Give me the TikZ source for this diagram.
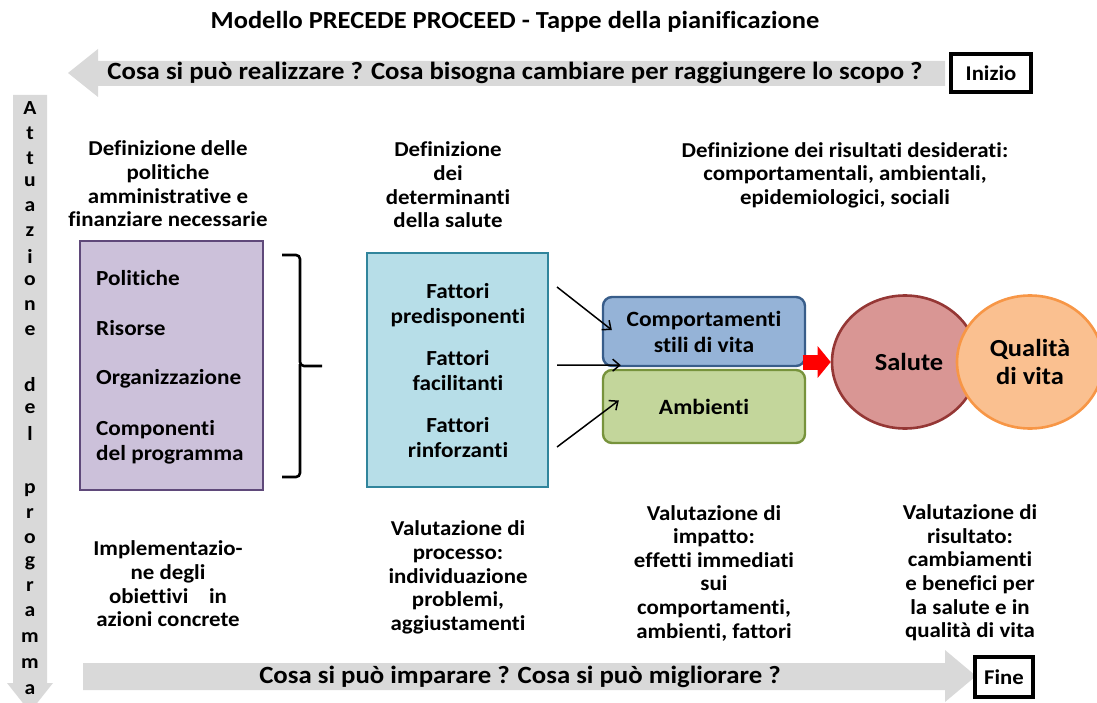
\documentclass[tikz,border=0pt]{standalone}
\usepackage{fontspec}
\setmainfont{Carlito}[FakeStretch=1.08, Ligatures=NoCommon]
\usetikzlibrary{positioning,shapes.geometric,arrows.meta}

\definecolor{arrgrey}{HTML}{D9D9D9}
\definecolor{pfill}{HTML}{CCC1DA}
\definecolor{pborder}{HTML}{5F497A}
\definecolor{dfill}{HTML}{B7DEE8}
\definecolor{dborder}{HTML}{31859C}
\definecolor{cfill}{HTML}{95B3D7}
\definecolor{cborder}{HTML}{385D8A}
\definecolor{afill}{HTML}{C3D69B}
\definecolor{aborder}{HTML}{77933C}
\definecolor{sfill}{HTML}{D99694}
\definecolor{sborder}{HTML}{953735}
\definecolor{qfill}{HTML}{FAC090}
\definecolor{qborder}{HTML}{F79646}

\begin{document}
\begin{tikzpicture}[x=1pt, y=-1pt,
    hd/.style={align=center, inner sep=0pt, font=\fontsize{21.2}{23.6}\selectfont\bfseries},
    big/.style={inner sep=0pt, font=\fontsize{24.8}{28}\selectfont\bfseries},
    endbox/.style={draw, line width=3.2pt, fill=white, inner sep=0pt,
        font=\fontsize{21}{23}\selectfont\bfseries},
    item/.style={anchor=west, align=left, inner sep=0pt, font=\fontsize{21.5}{25}\selectfont\bfseries},
    fat/.style={align=center, inner sep=0pt, font=\fontsize{21.5}{25}\selectfont\bfseries},
    rbox/.style={draw, line width=2.4pt, rounded corners=9pt, minimum width=202pt,
        align=center, inner sep=0pt, font=\fontsize{21.8}{26}\selectfont\bfseries},
    oval/.style={ellipse, draw, line width=2.6pt, minimum width=146pt, minimum height=133pt,
        inner sep=0pt, align=center, font=\fontsize{24.5}{28}\selectfont\bfseries},
    arr/.style={-{Straight Barb[length=7pt,width=12pt]}, line width=1.5pt},
    vl/.style={inner sep=0pt, font=\fontsize{20}{20}\selectfont\bfseries}]
    \useasboundingbox (0,0) rectangle (1097,703);

    \node[font=\fontsize{24.5}{28}\selectfont\bfseries] (title) at (515,22)
        {Modello PRECEDE PROCEED - Tappe della pianificazione};

    % freccia in alto
    \fill[arrgrey] (945,61) -- (98,61) -- (98,49) -- (68,73) -- (98,97) -- (98,86) -- (945,86) -- cycle;
    \node[big] (plan) at (515,73) {Cosa si può realizzare ? Cosa bisogna cambiare per raggiungere lo scopo ?};
    \node[endbox, minimum width=80pt, minimum height=38pt] (start) at (991,73) {Inizio};

    % freccia verticale
    \fill[arrgrey] (13,95) -- (47,95) -- (47,683) -- (53,683) -- (30,712) -- (7,683) -- (13,683) -- cycle;
    \foreach \ch/\yy [count=\i] in {A/108, t/133, t/158, u/182, a/207, z/232, i/256, o/281,
        n/306, e/331, d/385, e/409, l/433, p/490, r/514, o/539, g/563, r/587, a/612,
        m/638, m/664, a/690}
        \node[vl] (v\i) at (30,\yy) {\ch};

    % intestazioni
    \node[hd] (h1) at (168,184) {Definizione delle\\politiche\\amministrative e\\finanziare necessarie};
    \node[hd] (h2) at (448,185) {Definizione\\dei\\determinanti\\della salute};
    \node[hd] (h3) at (845,175) {Definizione dei risultati desiderati:\\comportamentali, ambientali,\\epidemiologici, sociali};

    % politiche
    \node[draw=pborder, fill=pfill, line width=2pt, minimum width=183pt, minimum height=249pt] (res) at (171.5,365.5) {};
    \node[item] (pol) at (96,278) {Politiche};
    \node[item] (ris) at (96,328) {Risorse};
    \node[item] (org) at (96,379) {Organizzazione};
    \node[item] (cmp) at (96,442.5) {Componenti\\del programma};

    \draw[line width=2.6pt, rounded corners=4pt] (282,255) -- (300,255) -- (300,366) -- (322,366);
    \draw[line width=2.6pt, rounded corners=4pt] (300,364) -- (300,477) -- (282,477);

    % determinanti
    \node[draw=dborder, fill=dfill, line width=2pt, minimum width=181pt, minimum height=234pt] (det) at (457.5,370) {};
    \node[fat] (pred) at (458,305) {Fattori\\predisponenti};
    \node[fat] (fac) at (458,370.5) {Fattori\\facilitanti};
    \node[fat] (rinf) at (458,437.5) {Fattori\\rinforzanti};

    \node[rbox, draw=cborder, fill=cfill, minimum height=69pt] (comp) at (704,331.5) {Comportamenti\\stili di vita};
    \node[rbox, draw=aborder, fill=afill, minimum height=73pt] (amb) at (704,406.5) {Ambienti};

    \coordinate (s1) at (557,287);
    \coordinate (s2) at (557,365);
    \coordinate (s3) at (557,447);
    \draw[arr] (s1) -- ([xshift=10pt,yshift=1.5pt]comp.west);
    \draw[arr] (s2) -- ([xshift=19pt,yshift=2pt]comp.south west);
    \draw[arr] (s3) -- ([xshift=17pt,yshift=6pt]amb.west);

    % salute
    \node[oval, draw=sborder, fill=sfill] (sal) at (905,362) {\hspace*{8pt}Salute};
    \node[oval, draw=qborder, fill=qfill] (qual) at (1030,362) {Qualità\\di vita};
    \draw[red, line width=15pt, -{Triangle[length=13pt,width=31pt]}] ([xshift=-28pt]sal.west) -- (sal.west);

    % valutazioni
    \node[hd] (b1) at (168,584) {Implementazio-\\ne degli\\obiettivi\ \ \ \ in\\azioni concrete};
    \node[hd] (b2) at (458,577.5) {Valutazione di\\processo:\\individuazione\\problemi,\\aggiustamenti};
    \node[hd] (b3) at (714,573) {Valutazione di\\impatto:\\effetti immediati\\sui\\comportamenti,\\ambienti, fattori};
    \node[hd] (b4) at (970,573) {Valutazione di\\risultato:\\cambiamenti\\e benefici per\\la salute e in\\qualità di vita};

    % freccia in basso
    \fill[arrgrey] (83,663) -- (945,663) -- (945,650) -- (976,676) -- (945,702) -- (945,690) -- (83,690) -- cycle;
    \node[big] (learn) at (520,677) {Cosa si può imparare ? Cosa si può migliorare ?};
    \node[endbox, minimum width=58pt, minimum height=40pt] (end) at (1004,677) {Fine};
\end{tikzpicture}
\end{document}
